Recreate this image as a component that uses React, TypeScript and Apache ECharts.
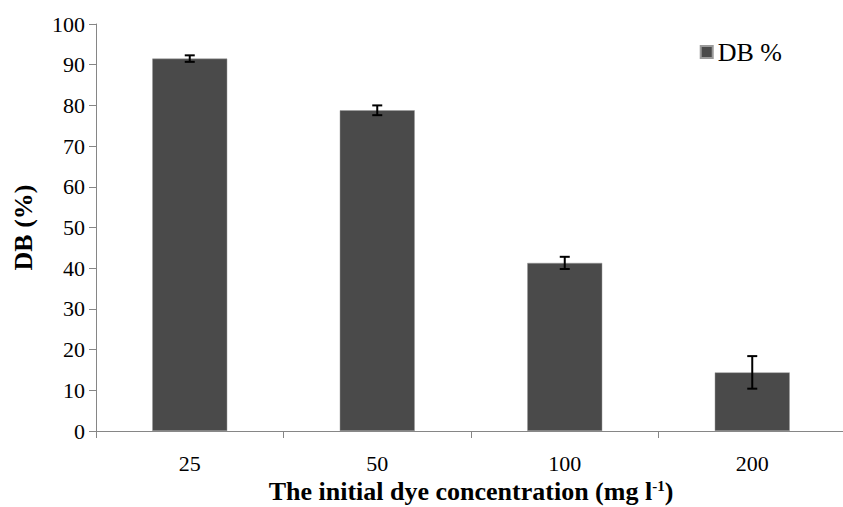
import React, { useEffect, useRef } from "react";
import * as echarts from "echarts";

const categories = ["25", "50", "100", "200"];
const dbValues = [91.5, 78.8, 41.3, 14.4];
const dbErrors = [0.8, 1.2, 1.5, 4.0];
const yTicks = { min: 0, max: 100, interval: 10 };

const FONT = "'Liberation Serif', 'Times New Roman', serif";

export default function App() {
  const ref = useRef<HTMLDivElement>(null);
  useEffect(() => {
    if (!ref.current) return;
    const chart = echarts.init(ref.current, null, { renderer: "svg" });
    const errData = categories.map((c, i) => [i, dbValues[i] - dbErrors[i], dbValues[i] + dbErrors[i]]);
    chart.setOption({
      animation: false,
      backgroundColor: "#ffffff",
      grid: { left: 96, right: -3, top: 24, bottom: 76, containLabel: false, outerBoundsMode: "none" },
      legend: {
        show: true,
        data: [{ name: "DB %", icon: "rect" }],
        right: 56,
        top: 34,
        itemWidth: 12,
        itemHeight: 12,
        itemGap: 4,
        textStyle: { fontFamily: FONT, fontSize: 26, color: "#000", padding: [0, 0, 0, 0] },
      },
      xAxis: {
        type: "category",
        data: categories,
        boundaryGap: true,
        axisLine: { lineStyle: { color: "#868686", width: 1 } },
        axisTick: { show: true, alignWithLabel: false, length: 7, lineStyle: { color: "#868686" } },
        axisLabel: { fontFamily: FONT, fontSize: 22, color: "#000", margin: 21 },
        name: "The initial dye concentration (mg l{sup|-1})",
        nameLocation: "middle",
        nameGap: 44,
        nameTextStyle: {
          fontFamily: FONT,
          fontSize: 26,
          lineHeight: 26,
          fontWeight: "bold",
          color: "#000",
          rich: {
            sup: { fontFamily: FONT, fontSize: 15, lineHeight: 26, fontWeight: "bold", color: "#000", verticalAlign: "top", padding: [0, 0, 10, 0] },
          },
        },
      },
      yAxis: {
        type: "value",
        min: yTicks.min,
        max: yTicks.max,
        interval: yTicks.interval,
        splitLine: { show: false },
        axisLine: { show: true, lineStyle: { color: "#868686", width: 1 } },
        axisTick: { show: true, length: 7, lineStyle: { color: "#868686" } },
        axisLabel: { fontFamily: FONT, fontSize: 22, color: "#000", margin: 11 },
        name: "DB (%)",
        nameLocation: "middle",
        nameGap: 60,
        nameRotate: 90,
        nameTextStyle: { fontFamily: FONT, fontSize: 26, fontWeight: "bold", color: "#000" },
      },
      series: [
        {
          name: "DB %",
          type: "bar",
          data: dbValues,
          barWidth: "40%",
          itemStyle: { color: "#4a4a4a", borderColor: "#9a9a9a", borderWidth: 0.5 },
        },
        {
          name: "err",
          type: "custom",
          data: errData,
          z: 10,
          renderItem: (params: any, api: any) => {
            const x = api.value(0);
            const lo = api.coord([x, api.value(1)]);
            const hi = api.coord([x, api.value(2)]);
            const cap = 5;
            const style = { stroke: "#000", lineWidth: 2 };
            return {
              type: "group",
              children: [
                { type: "line", shape: { x1: hi[0], y1: hi[1], x2: lo[0], y2: lo[1] }, style },
                { type: "line", shape: { x1: hi[0] - cap, y1: hi[1], x2: hi[0] + cap, y2: hi[1] }, style },
                { type: "line", shape: { x1: lo[0] - cap, y1: lo[1], x2: lo[0] + cap, y2: lo[1] }, style },
              ],
            };
          },
        },
      ],
    });
    return () => chart.dispose();
  }, []);
  return <div ref={ref} style={{ width: 843, height: 507, position: "absolute", left: 0, top: 0 }} />;
}
